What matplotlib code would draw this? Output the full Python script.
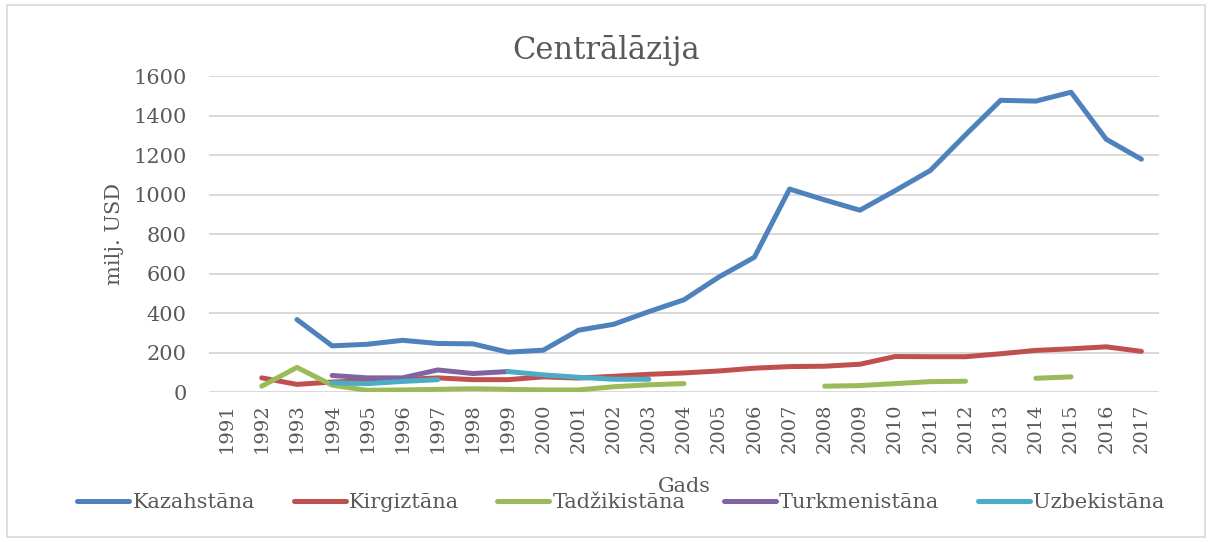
import numpy as np
import matplotlib
matplotlib.use("Agg")
import matplotlib.pyplot as plt
from matplotlib.patches import Rectangle

nan = np.nan
years = [str(y) for y in range(1991, 2018)]
kazahstana = [nan, nan, 368, 235, 243, 263, 247, 245, 203, 213, 314, 344, 408, 468,
              584, 683, 1028, 973, 921, 1020, 1122, 1302, 1477, 1473, 1518, 1280, 1179]
kirgiztana = [nan, 73, 40, 52, 58, 64, 73, 64, 64, 78, 72, 81, 91, 98,
              108, 122, 130, 132, 142, 181, 180, 180, 195, 212, 220, 230, 207]
tadzikistana = [nan, 31, 126, 36, 10, 12, 15, 18, 15, 12, 12, 28, 38, 44,
                nan, nan, nan, 31, 34, 44, 54, 56, nan, 71, 78, nan, nan]
turkmenistana = [nan, nan, nan, 85, 73, 73, 113, 95, 105, nan, nan, nan, nan, nan,
                 nan, nan, nan, nan, nan, nan, nan, nan, nan, nan, nan, nan, nan]
uzbekistana = [nan, nan, nan, 48, 44, 55, 64, nan, 105, 88, 76, 66, 66, nan,
               nan, nan, nan, nan, nan, nan, nan, nan, nan, nan, nan, nan, nan]

series = [("Kazahstāna", kazahstana, "#4F81BD"),
          ("Kirgiztāna", kirgiztana, "#C0504D"),
          ("Tadžikistāna", tadzikistana, "#9BBB59"),
          ("Turkmenistāna", turkmenistana, "#8064A2"),
          ("Uzbekistāna", uzbekistana, "#4BACC6")]

plt.rcParams['font.family'] = ['DejaVu Serif']
txt = "#595959"

fig = plt.figure(figsize=(12.13, 5.42), dpi=100)
fig.patches.append(Rectangle((7/1213, 5/542), 1198/1213, 532/542, transform=fig.transFigure,
                             fill=False, edgecolor="#d9d9d9", linewidth=1.2))
ax = fig.add_axes([209/1213, 1-392.3/542, 950/1213, (392.3-76)/542])

x = np.arange(len(years))
for name, vals, col in series:
    ax.plot(x, vals, color=col, linewidth=3.6, solid_capstyle='round',
            solid_joinstyle='round', label=name)

ax.set_xlim(-0.5, len(years)-0.5)
ax.set_ylim(0, 1600)
ax.set_yticks(range(0, 1601, 200))
ax.set_xticks(x)
ax.set_xticklabels(years, rotation=90, fontsize=14, color=txt)
ax.tick_params(axis='y', labelsize=15, colors=txt, length=0, pad=16)
ax.tick_params(axis='x', length=0, pad=8, colors=txt)
ax.grid(axis='y', color="#d9d9d9", linewidth=1.4)
ax.set_axisbelow(True)
for s in ax.spines.values():
    s.set_visible(False)

ax.set_ylabel("milj. USD", fontsize=15, color=txt, labelpad=7)
fig.text(606/1213, 1-50/542, "Centrālāzija", ha='center', va='center', fontsize=22, color=txt)
fig.text(684/1213, 1-487/542, "Gads", ha='center', va='center', fontsize=15, color=txt)

leg = fig.legend(loc='center', bbox_to_anchor=(621/1213, 1-503/542), ncol=5, frameon=False,
                 fontsize=15, handlelength=2.5, handletextpad=0.15, columnspacing=1.85,
                 labelcolor=txt)

fig.savefig("out.png", dpi=100)
